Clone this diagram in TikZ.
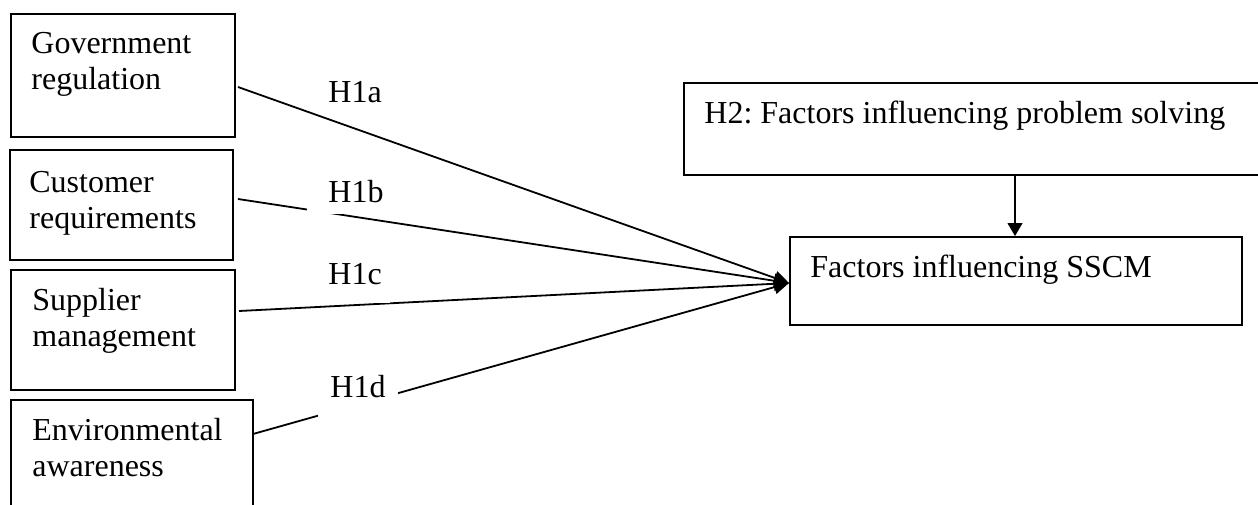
\documentclass[tikz,border=0pt]{standalone}
\usepackage{fontspec}
\setmainfont{Liberation Serif}
\usetikzlibrary{arrows.meta}
\frenchspacing
\newcommand{\twolines}[2]{\parbox[t]{120pt}{\raggedright #1\\#2}}
\begin{document}
\begin{tikzpicture}[x=0.5pt,y=-0.5pt,
  box/.style={draw, line width=1pt, anchor=north west, inner sep=0pt},
  txt/.style={anchor=base west, inner sep=0pt, font=\fontsize{16pt}{18pt}\selectfont},
  hyp/.style={anchor=base west, fill=white, font=\fontsize{16pt}{18pt}\selectfont},
  link/.style={line width=0.9pt, -{Triangle[length=7.5pt,width=7pt]}},
  down/.style={line width=0.6pt, -{Triangle[length=6.5pt,width=7.5pt]}}]
\useasboundingbox (0,0) rectangle (1258,504);
\clip (0,0) rectangle (1258,504);
% boxes
\node[box, minimum width=112pt, minimum height=61.5pt] (gov) at (10,13) {};
\node[box, minimum width=111.5pt, minimum height=55pt] (cust) at (9,149) {};
\node[box, minimum width=112pt, minimum height=60pt] (supp) at (10,269) {};
\node[box, minimum width=121pt, minimum height=60pt] (env) at (10,399) {};
\node[box, minimum width=300pt, minimum height=46pt] (h2) at (683,82) {};
\node[box, minimum width=226pt, minimum height=44pt] (sscm) at (789,236) {};
% texts
\node[txt] (govtxt) at (31,53) {\twolines{Government}{regulation}};
\node[txt] (custtxt) at (29,192) {\twolines{Customer}{requirements}};
\node[txt] (supptxt) at (32,310) {\twolines{Supplier}{management}};
\node[txt] (envtxt) at (32,440) {\twolines{Environmental}{awareness}};
\node[txt] (h2txt) at (704,123) {H2: Factors influencing problem solving};
\node[txt] (sscmtxt) at (810,277) {Factors influencing SSCM};
% connectors
\coordinate (sA) at (238,87);
\coordinate (sB) at (238,199);
\coordinate (sC) at (239,311);
\coordinate (sD) at (253,434);
\coordinate (tip) at (789,283);
\draw[link] (sA) -- (tip);
\draw[link] (sB) -- (tip);
\draw[link] (sC) -- (tip);
\draw[link] (sD) -- (tip);
\coordinate (vx) at (1015,0);
\draw[down] (h2.south -| vx) -- (sscm.north -| vx);
% hypothesis labels
\node[hyp, inner xsep=4pt, inner ysep=4pt] (la) at (320,102) {H1a};
\node[hyp, inner xsep=10.5pt, inner ysep=6pt] (lb) at (307,202) {H1b};
\node[hyp, inner xsep=4pt, inner ysep=9.25pt] (lc) at (320,284) {H1c\hspace{17pt}};
\node[hyp, inner xsep=6pt, inner ysep=10pt] (ld) at (318,397) {H1d\hspace{6pt}};
\end{tikzpicture}
\end{document}
